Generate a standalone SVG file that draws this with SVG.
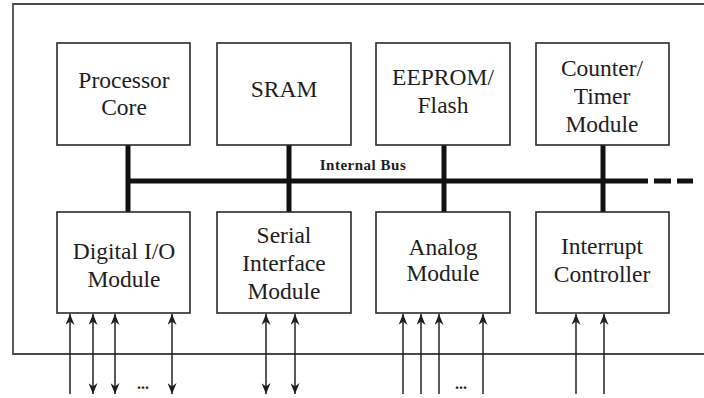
<svg xmlns="http://www.w3.org/2000/svg" width="704" height="398" viewBox="0 0 704 398">
  <defs>
    <style>
      .box { fill: #fff; stroke: #2a2a2a; stroke-width: 1.6; }
      .lbl { font-family: "Liberation Serif", "Times New Roman", serif; font-size: 23.5px; fill: #1e1e1e; text-anchor: middle; }
      .bus { stroke: #111; stroke-width: 5; fill: none; }
      .pin { stroke: #222; stroke-width: 1.5; fill: none; }
      .dots { font-family: "Liberation Serif", serif; font-size: 16px; font-weight: bold; fill: #222; text-anchor: middle; }
    </style>
    <marker id="head" viewBox="0 0 11 9" refX="11" refY="4.5" markerWidth="11" markerHeight="9" markerUnits="userSpaceOnUse" orient="auto-start-reverse">
      <path d="M0,0 L11,4.5 L0,9 L3.5,4.5 z" fill="#1e1e1e"/>
    </marker>
  </defs>
  <rect width="704" height="398" fill="#fff"/>

  <!-- chip outline, open to the right -->
  <path d="M720,4 H13 V354 H720" fill="none" stroke="#4a4a4a" stroke-width="1.8"/>

  <!-- internal bus, its taps and the I/O pins -->
  <g id="connectors">
    <line class="bus" x1="128" y1="181" x2="648" y2="181"/>
    <line class="bus" x1="654" y1="181" x2="671" y2="181"/>
    <line class="bus" x1="677" y1="181" x2="693" y2="181"/>
    <line class="bus" x1="128" y1="145" x2="128" y2="212"/>
    <line class="bus" x1="289" y1="145" x2="289" y2="212"/>
    <line class="bus" x1="444" y1="145" x2="444" y2="212"/>
    <line class="bus" x1="603" y1="145" x2="603" y2="212"/>
    <text x="363" y="170" font-family="Liberation Serif, serif" font-size="15" font-weight="bold" fill="#1e1e1e" text-anchor="middle" letter-spacing="0.5">Internal Bus</text>

    <!-- digital I/O pins -->
    <line class="pin" x1="70" y1="394" x2="70" y2="314" marker-end="url(#head)"/>
    <line class="pin" x1="93" y1="394" x2="93" y2="314" marker-start="url(#head)" marker-end="url(#head)"/>
    <line class="pin" x1="115" y1="394" x2="115" y2="314" marker-start="url(#head)" marker-end="url(#head)"/>
    <line class="pin" x1="172" y1="394" x2="172" y2="314" marker-start="url(#head)" marker-end="url(#head)"/>
    <text class="dots" x="143" y="389">...</text>

    <!-- serial pins -->
    <line class="pin" x1="266" y1="394" x2="266" y2="314" marker-start="url(#head)" marker-end="url(#head)"/>
    <line class="pin" x1="295" y1="394" x2="295" y2="314" marker-start="url(#head)" marker-end="url(#head)"/>

    <!-- analog inputs -->
    <line class="pin" x1="403" y1="394" x2="403" y2="314" marker-end="url(#head)"/>
    <line class="pin" x1="421" y1="394" x2="421" y2="314" marker-end="url(#head)"/>
    <line class="pin" x1="439" y1="394" x2="439" y2="314" marker-end="url(#head)"/>
    <line class="pin" x1="483" y1="394" x2="483" y2="314" marker-end="url(#head)"/>
    <text class="dots" x="461" y="389">...</text>

    <!-- interrupt lines -->
    <line class="pin" x1="576" y1="394" x2="576" y2="314" marker-end="url(#head)"/>
    <line class="pin" x1="604" y1="394" x2="604" y2="314" marker-end="url(#head)"/>
  </g>

  <g id="processor-core">
    <rect class="box" x="57" y="43" width="133" height="102"/>
    <text class="lbl" x="124" y="88">Processor</text>
    <text class="lbl" x="124" y="115">Core</text>
  </g>
  <g id="sram">
    <rect class="box" x="217" y="43" width="134" height="102"/>
    <text class="lbl" x="284" y="97">SRAM</text>
  </g>
  <g id="eeprom-flash">
    <rect class="box" x="376" y="43" width="134" height="102"/>
    <text class="lbl" x="443" y="85">EEPROM/</text>
    <text class="lbl" x="443" y="113">Flash</text>
  </g>
  <g id="counter-timer">
    <rect class="box" x="536" y="43" width="133" height="102"/>
    <text class="lbl" x="602" y="76">Counter/</text>
    <text class="lbl" x="602" y="104">Timer</text>
    <text class="lbl" x="602" y="132">Module</text>
  </g>

  <g id="digital-io">
    <rect class="box" x="57" y="212" width="133" height="101"/>
    <text class="lbl" x="124" y="259">Digital I/O</text>
    <text class="lbl" x="124" y="287">Module</text>
  </g>
  <g id="serial-interface">
    <rect class="box" x="217" y="212" width="134" height="101"/>
    <text class="lbl" x="284" y="243">Serial</text>
    <text class="lbl" x="284" y="271">Interface</text>
    <text class="lbl" x="284" y="299">Module</text>
  </g>
  <g id="analog">
    <rect class="box" x="376" y="212" width="134" height="101"/>
    <text class="lbl" x="443" y="255">Analog</text>
    <text class="lbl" x="443" y="281">Module</text>
  </g>
  <g id="interrupt-controller">
    <rect class="box" x="536" y="212" width="133" height="101"/>
    <text class="lbl" x="602" y="254">Interrupt</text>
    <text class="lbl" x="602" y="282">Controller</text>
  </g>
</svg>
